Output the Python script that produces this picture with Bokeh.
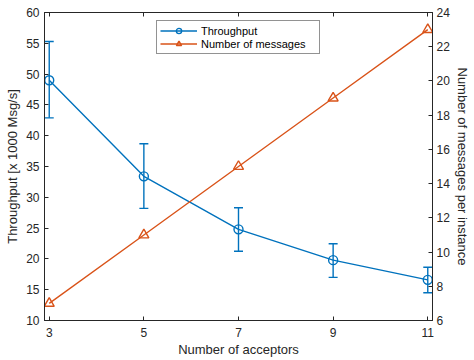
from bokeh.plotting import figure
from bokeh.models import (Range1d, LinearAxis, Whisker, TeeHead, ColumnDataSource,
                          Legend, LegendItem, FixedTicker)
from bokeh.embed import file_html
from bokeh.resources import INLINE

# ---- data ----
acceptors = [3, 5, 7, 9, 11]
throughput = [49.0, 33.4, 24.8, 19.8, 16.6]
thr_upper = [55.3, 38.7, 28.3, 22.45, 18.65]
thr_lower = [42.9, 28.2, 21.25, 17.0, 14.5]
messages = [7, 11, 15, 19, 23]
x_ticks = [3, 5, 7, 9, 11]
left_ticks = [10, 15, 20, 25, 30, 35, 40, 45, 50, 55, 60]
right_ticks = [6, 8, 10, 12, 14, 16, 18, 20, 22, 24]

BLUE = "#0072BD"
ORANGE = "#D95319"
AX = "#262626"
FONT = "Liberation Sans"
TICK_FS = "12px"
LABEL_FS = "13px"

p = figure(frame_width=388, frame_height=308, x_range=Range1d(2.9, 11.1), y_range=Range1d(10, 60),
           output_backend="svg", toolbar_location=None,
           min_border_left=44, min_border_right=0, min_border_top=12, min_border_bottom=0)
p.extra_y_ranges = {"msg": Range1d(6, 24)}
p.xgrid.visible = False
p.ygrid.visible = False
p.outline_line_color = AX
p.background_fill_color = "white"


def style_axis(ax, ticks, label_standoff=5, title_standoff=3):
    ax.ticker = FixedTicker(ticks=ticks)
    ax.major_tick_in = 4
    ax.major_tick_out = 0
    ax.minor_tick_line_color = None
    ax.axis_line_color = AX
    ax.major_tick_line_color = AX
    ax.major_label_text_color = AX
    ax.major_label_text_font = FONT
    ax.major_label_text_font_size = TICK_FS
    ax.axis_label_text_font = FONT
    ax.axis_label_text_font_size = LABEL_FS
    ax.axis_label_text_font_style = "normal"
    ax.axis_label_text_color = AX
    ax.major_label_standoff = label_standoff
    ax.axis_label_standoff = title_standoff


style_axis(p.xaxis[0], x_ticks, label_standoff=7, title_standoff=2)
p.xaxis[0].axis_label = "Number of acceptors"
style_axis(p.yaxis[0], left_ticks, label_standoff=5, title_standoff=3)
p.yaxis[0].axis_label = "Throughput [x 1000 Msg/s]"

right = LinearAxis(y_range_name="msg", axis_label="Number of messages per instance")
style_axis(right, right_ticks, label_standoff=4, title_standoff=2)
p.add_layout(right, "right")

top = LinearAxis()
style_axis(top, x_ticks)
top.major_label_text_color = None
top.major_label_standoff = 0
p.add_layout(top, "above")

# ---- throughput with error bars ----
src = ColumnDataSource(dict(x=acceptors, y=throughput, lo=thr_lower, hi=thr_upper))
err = Whisker(source=src, base="x", upper="hi", lower="lo", dimension="height",
              line_color=BLUE, line_width=1.4,
              upper_head=TeeHead(size=9, line_color=BLUE, line_width=1.4),
              lower_head=TeeHead(size=9, line_color=BLUE, line_width=1.4))
p.add_layout(err)
l1 = p.line("x", "y", source=src, line_color=BLUE, line_width=1.4)
s1 = p.scatter("x", "y", source=src, marker="circle", size=9, line_color=BLUE,
               line_width=1.4, fill_alpha=0)

# ---- messages ----
src2 = ColumnDataSource(dict(x=acceptors, y=messages))
l2 = p.line("x", "y", source=src2, y_range_name="msg", line_color=ORANGE, line_width=1.4)
s2 = p.scatter("x", "y", source=src2, y_range_name="msg", marker="triangle", size=10,
               line_color=ORANGE, line_width=1.4, fill_alpha=0)

legend = Legend(items=[LegendItem(label="Throughput", renderers=[l1, s1]),
                       LegendItem(label="Number of messages", renderers=[l2, s2])],
                location="top_center", orientation="vertical")
legend.label_text_font = FONT
legend.label_text_font_size = "11px"
legend.label_text_color = "black"
legend.border_line_color = AX
legend.border_line_width = 1
legend.background_fill_alpha = 1
legend.glyph_width = 37
legend.glyph_height = 13
legend.label_height = 13
legend.label_width = 115
legend.spacing = 0
legend.padding = 3
legend.margin = 8
legend.label_standoff = 4
p.add_layout(legend, "center")

open("out.html", "w").write(file_html(p, INLINE))
